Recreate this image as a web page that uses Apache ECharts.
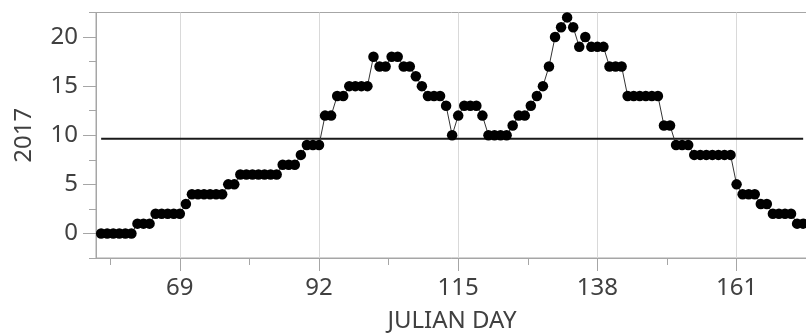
<!DOCTYPE html>
<html>
<head>
<meta charset="utf-8">
<script src="https://cdn.jsdelivr.net/npm/echarts@6/dist/echarts.min.js"></script>
<style>
  html, body { margin: 0; padding: 0; background: #ffffff; }
  #chart { width: 806px; height: 333px; }
</style>
</head>
<body>
<div id="chart"></div>
<script>
// Julian day of each observation
const julianDays = [
  56, 57, 58, 59, 60, 61, 62, 63, 64, 65, 66, 67, 68, 69, 70, 71, 72, 73, 74, 75,
  76, 77, 78, 79, 80, 81, 82, 83, 84, 85, 86, 87, 88, 89, 90, 91, 92, 93, 94, 95,
  96, 97, 98, 99, 100, 101, 102, 103, 104, 105, 106, 107, 108, 109, 110, 111, 112, 113, 114, 115,
  116, 117, 118, 119, 120, 121, 122, 123, 124, 125, 126, 127, 128, 129, 130, 131, 132, 133, 134, 135,
  136, 137, 138, 139, 140, 141, 142, 143, 144, 145, 146, 147, 148, 149, 150, 151, 152, 153, 154, 155,
  156, 157, 158, 159, 160, 161, 162, 163, 164, 165, 166, 167, 168, 169, 170, 171, 172
];

// 2017 values per day
const values2017 = [
  0, 0, 0, 0, 0, 0, 1, 1, 1, 2, 2, 2, 2, 2, 3, 4, 4, 4, 4, 4,
  4, 5, 5, 6, 6, 6, 6, 6, 6, 6, 7, 7, 7, 8, 9, 9, 9, 12, 12, 14,
  14, 15, 15, 15, 15, 18, 17, 17, 18, 18, 17, 17, 16, 15, 14, 14, 14, 13, 10, 12,
  13, 13, 13, 12, 10, 10, 10, 10, 11, 12, 12, 13, 14, 15, 17, 20, 21, 22, 21, 19,
  20, 19, 19, 19, 17, 17, 17, 14, 14, 14, 14, 14, 14, 11, 11, 9, 9, 9, 8, 8,
  8, 8, 8, 8, 8, 5, 4, 4, 4, 3, 3, 2, 2, 2, 2, 1, 1
];

// Axis tick positions
const xMajorTicks = [69, 92, 115, 138, 161];
const xMinorTicks = [57.5, 80.5, 103.5, 126.5, 149.5, 172.5];
const yMajorTicks = [0, 5, 10, 15, 20];
const yMinorTicks = [-2.5, 2.5, 7.5, 12.5, 17.5, 22.5];

const meanValue = values2017.reduce((a, b) => a + b, 0) / values2017.length;
const points = julianDays.map((d, i) => [d, values2017[i]]);
const meanLine = [
  [julianDays[0], meanValue],
  [julianDays[julianDays.length - 1], meanValue]
];

const FONT = 'Noto Sans';
const FONT_SIZE = 24;
const AXIS_COLOR = '#a6a6a6';
const LABEL_COLOR = '#404040';

const chart = echarts.init(document.getElementById('chart'), null, { renderer: 'canvas' });

const xBase = {
  type: 'value',
  min: 55.15,
  max: 172.8,
  position: 'bottom',
  gridIndex: 0
};
const yBase = {
  type: 'value',
  min: -2.5,
  max: 22.5,
  position: 'left',
  gridIndex: 0
};

chart.setOption({
  animation: false,
  backgroundColor: '#ffffff',
  grid: {
    left: 96,
    right: -2,
    top: 12.5,
    bottom: 75,
    outerBoundsMode: 'none',
    containLabel: false,
    show: true,
    borderColor: AXIS_COLOR,
    borderWidth: 1,
    backgroundColor: 'transparent'
  },
  xAxis: [
    Object.assign({}, xBase, {
      name: 'JULIAN DAY',
      nameLocation: 'middle',
      nameGap: 51,
      nameTextStyle: { fontFamily: FONT, fontSize: FONT_SIZE, color: LABEL_COLOR },
      axisLine: { show: true, onZero: false, lineStyle: { color: AXIS_COLOR, width: 1 } },
      axisTick: { show: true, customValues: xMajorTicks, length: 13, lineStyle: { color: AXIS_COLOR } },
      axisLabel: { customValues: xMajorTicks, margin: 18, fontFamily: FONT, fontSize: FONT_SIZE, color: LABEL_COLOR },
      splitLine: { show: true, lineStyle: { color: '#d9d9d9', width: 1 } }
    }),
    Object.assign({}, xBase, {
      axisLine: { show: false, onZero: false },
      axisTick: { show: true, customValues: xMinorTicks, length: 7, lineStyle: { color: AXIS_COLOR } },
      axisLabel: { show: false },
      splitLine: { show: false }
    })
  ],
  yAxis: [
    Object.assign({}, yBase, {
      name: '2017',
      nameLocation: 'middle',
      nameGap: 60,
      nameRotate: 90,
      nameTextStyle: { fontFamily: FONT, fontSize: FONT_SIZE, color: LABEL_COLOR },
      axisLine: { show: true, onZero: false, lineStyle: { color: AXIS_COLOR, width: 1 } },
      axisTick: { show: true, customValues: yMajorTicks, length: 13, lineStyle: { color: AXIS_COLOR } },
      axisLabel: { customValues: yMajorTicks, margin: 18, fontFamily: FONT, fontSize: FONT_SIZE, color: LABEL_COLOR },
      splitLine: { show: false }
    }),
    Object.assign({}, yBase, {
      axisLine: { show: false, onZero: false },
      axisTick: { show: true, customValues: yMinorTicks, length: 7, lineStyle: { color: AXIS_COLOR } },
      axisLabel: { show: false },
      splitLine: { show: false }
    })
  ],
  series: [
    {
      name: 'mean',
      type: 'line',
      xAxisIndex: 0,
      yAxisIndex: 0,
      data: meanLine,
      symbol: 'none',
      lineStyle: { color: '#1a1a1a', width: 2 },
      silent: true,
      z: 2
    },
    {
      name: '2017',
      type: 'line',
      xAxisIndex: 0,
      yAxisIndex: 0,
      data: points,
      symbol: 'circle',
      symbolSize: 10.5,
      showAllSymbol: true,
      itemStyle: { color: '#000000' },
      lineStyle: { color: '#333333', width: 1 },
      z: 3
    }
  ]
});
</script>
</body>
</html>
